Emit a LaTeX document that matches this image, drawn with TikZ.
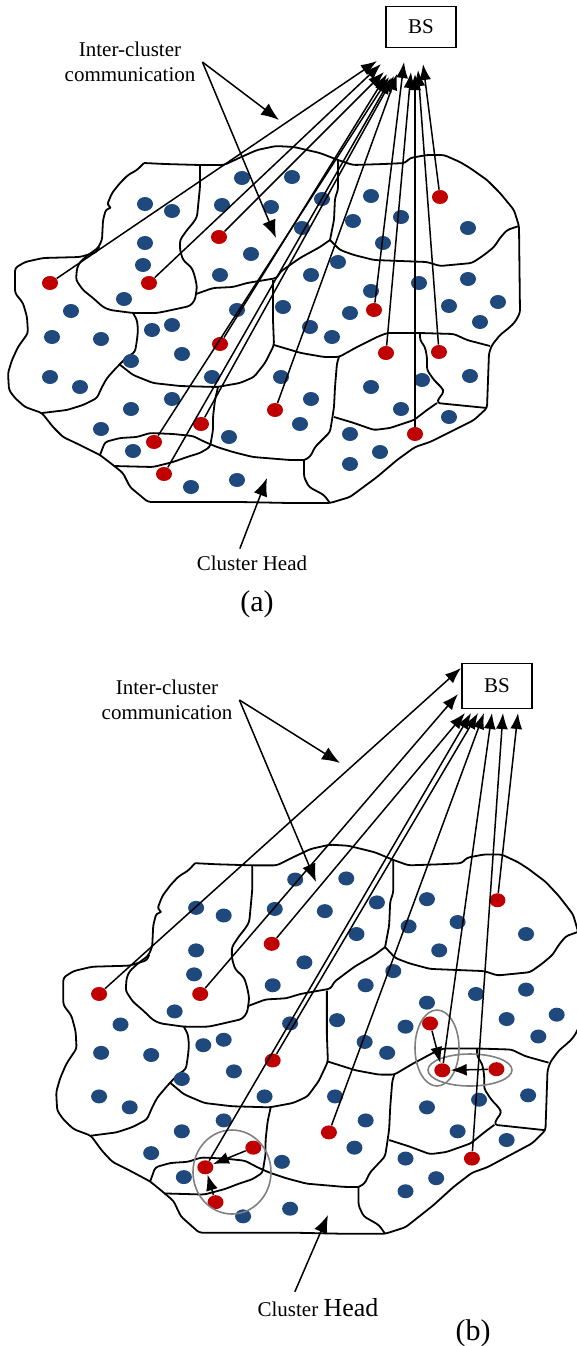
\documentclass[tikz,border=0pt]{standalone}
\usepackage{fontspec}
\setmainfont{Liberation Serif}
\usetikzlibrary{shapes.geometric,arrows.meta,positioning}
\definecolor{chred}{RGB}{192,0,0}
\definecolor{mblue}{RGB}{31,73,125}
\tikzset{
  cborder/.style={line width=0.9pt, line join=round, rounded corners=1.5pt},
  mnode/.style={ellipse, fill=mblue, minimum width=8pt, minimum height=7pt, inner sep=0pt},
  chnode/.style={ellipse, fill=chred, minimum width=8pt, minimum height=7pt, inner sep=0pt},
  uplink/.style={-{Latex[length=8pt,width=6pt]}, line width=0.75pt},
  callout/.style={-{Latex[length=9pt,width=7pt]}, line width=0.75pt},
  bsbox/.style={draw, line width=0.8pt, minimum width=35pt, minimum height=20.5pt},
  grp/.style={draw=gray, line width=0.8pt}
}
% the field of clusters, drawn in the coordinates of panel (a)
\newcommand{\clusterfield}[1]{%
  \draw[cborder] (144,163) -- (165,164) -- (200,165) -- (224,165) -- (239,158) -- (257,150) -- (276,146) -- (294,147) -- (320,153) -- (338,160) -- (353,165) -- (384,164) -- (405,163) -- (410,158) -- (427,155) -- (444,155) -- (460,162) -- (470,168) -- (487,180) -- (500,193) -- (514,210) -- (519,226)
    -- (520,313) -- (515,322) -- (510,327) -- (500,335) -- (492,345) -- (489,353) -- (487,408)
    -- (474,420) -- (454,430) -- (430,442) -- (415,447) -- (397,460) -- (377,477) -- (350,497) -- (330,503)
    -- (290,503) -- (240,502) -- (148,502) -- (130,487) -- (123,473) -- (113,465) -- (100,455) -- (80,445) -- (63,437) -- (53,427) -- (42,413) -- (25,407) -- (15,398) -- (9,390) -- (8,373) -- (12,360) -- (18,347) -- (28,333) -- (27,317) -- (23,303) -- (15,293) -- (15,268)
    -- (25,262) -- (43,258) -- (80,257) -- (97,252) -- (99,247);
  \draw[cborder] (144,163) -- (137,170) -- (128,175) -- (120,183) -- (112,193) -- (107,205) -- (112,208) -- (106,209) -- (103,220) -- (102,240) -- (98,248) -- (88,255) -- (80,262) -- (77,268) -- (76,280) -- (83,290) -- (93,298) -- (103,307) -- (110,310) -- (133,313) -- (157,313) -- (167,311) -- (190,306) -- (195,300) -- (197,287) -- (195,277) -- (192,268) -- (183,260) -- (180,250) -- (180,240) -- (187,230) -- (193,223) -- (197,217) -- (198,207) -- (200,187) -- (200,165);
  \draw[cborder] (133,313) -- (137,320) -- (138,330) -- (137,340) -- (135,352) -- (127,357) -- (117,367) -- (107,378) -- (102,387) -- (97,398) -- (83,405) -- (67,410) -- (42,413);
  \draw[cborder] (196,294) -- (213,288) -- (233,287) -- (247,283) -- (277,278) -- (280,272) -- (290,265) -- (300,258) -- (309,253) -- (320,247) -- (330,240);
  \draw[cborder] (338,160) -- (338,190) -- (335,198) -- (334,220) -- (330,240);
  \draw[cborder] (273,280) -- (273,320) -- (274,345) -- (265,363) -- (254,377) -- (240,383) -- (217,387) -- (180,386) -- (153,383) -- (133,375) -- (119,364);
  \draw[cborder] (218,387) -- (215,400) -- (213,417) -- (213,430) -- (210,447) -- (200,453) -- (187,457) -- (173,462) -- (153,467) -- (114,466);
  \draw[cborder] (100,455) -- (105,442) -- (120,438) -- (137,437) -- (150,433) -- (173,434) -- (193,436) -- (205,442) -- (217,447) -- (233,452) -- (253,457) -- (290,460) -- (304,460);
  \draw[cborder] (304,460) -- (304,477) -- (309,487) -- (324,495) -- (330,503);
  \draw[cborder] (304,460) -- (310,457) -- (315,447) -- (320,442) -- (330,432) -- (332,420) -- (334,407) -- (335,387) -- (337,363) -- (339,357);
  \draw[cborder] (274,345) -- (301,353) -- (324,357) -- (339,357) -- (357,347) -- (377,337) -- (387,333) -- (420,333) -- (454,334) -- (467,340) -- (490,346);
  \draw[cborder] (330,240) -- (340,250) -- (354,255) -- (374,260) -- (427,262) -- (440,266) -- (472,263) -- (484,255) -- (494,247) -- (500,238) -- (507,230) -- (519,226);
  \draw[cborder] (420,333) -- (420,340) -- (425,347) -- (427,357) -- (427,370) -- (434,380) -- (442,388) -- (444,392) -- (439,398) -- (437,403) -- (487,408);
  \draw[cborder] (334,417) -- (354,423) -- (374,430) -- (390,428) -- (414,420) -- (427,410) -- (437,403);
  % member nodes
  \foreach \x/\y [count=\k] in {242/178, 292/177, 145/204, 172/211, 222/205, 271/207, 322/199, 371/196, 302/228, 353/221, 401/217, 468/228, 145/243, 251/254, 383/243, 143/265, 220/275, 311/275, 338/262, 371/291, 419/283, 468/279, 124/299, 71/311, 101/339, 52/337, 237/310, 283/307, 152/330, 172/325, 182/354, 131/361, 350/313, 310/327, 332/337, 449/306, 498/302, 480/322, 50/377, 80/387, 212/377, 281/377, 371/387, 422/380, 470/376, 172/399, 131/409, 101/429, 311/399, 300/424, 401/409, 449/417, 229/437, 133/451, 350/434, 380/452, 350/464, 191/487, 237/480}
    \node[mnode] (m#1\k) at (\x,\y) {};
  % cluster heads
  \foreach \x/\y [count=\k] in {50/283, 149/283, 219/237, 220/344, 154/442, 164/474, 201/424, 275/410, 374/310, 386/353, 415/434, 439/352, 440/197}
    \node[chnode] (h#1\k) at (\x,\y) {};
}

\begin{document}
\begin{tikzpicture}[x=0.5pt, y=-0.5pt, font=\fontsize{10.5}{12.5}\selectfont]
\useasboundingbox (0,0) rectangle (577,1346);

% (a) direct links to the base station
\clusterfield{a}
\node[bsbox] (bsa) at (421,27) {BS};
\foreach \i/\tx/\ty in {1/377/61, 2/381/64, 3/384/72, 4/387/74, 5/389/77, 6/391/78, 7/394/76, 8/397/74, 9/404/62, 10/411/72, 11/415/74, 12/418/70, 13/423/64} {
  \coordinate (ta\i) at (\tx,\ty);
  \draw[uplink] (ha\i) -- (ta\i);
}
\node[align=center] (ica) at (130,62) {Inter-cluster\\communication};
\coordinate (ica1) at (279,120);
\coordinate (ica2) at (276,238);
\draw[callout] (ica.east) -- (ica1);
\draw[callout] (ica.east) -- (ica2);
\node (cha) at (252,563) {Cluster Head};
\coordinate (cha1) at (267,478);
\draw[callout] (cha.130) -- (cha1);
\node (capa) at (257,604) {\fontsize{15}{18}\selectfont (a)};

% (b) multi-hop between cluster heads
\begin{scope}[shift={(48,685.5)}, xscale=1.0215, yscale=1.09]
  \clusterfield{b}
\end{scope}
\draw[grp] (232,1172) ellipse [x radius=19.5pt, y radius=21pt];
\draw[grp] (437,1048) ellipse [x radius=11pt, y radius=19pt];
\draw[grp] (470,1070) ellipse [x radius=21pt, y radius=8pt];
\node[bsbox, minimum height=22.5pt] (bsb) at (497,686) {BS};
\foreach \i/\tx/\ty in {1/461/668, 2/458/694, 3/465/713, 4/478/713, 5/471/713, 8/484/713, 10/492/713, 11/503/713, 13/518/713} {
  \coordinate (tb\i) at (\tx,\ty);
  \draw[uplink] (hb\i) -- (tb\i);
}
\draw[uplink] (hb7) -- (hb5);
\draw[uplink] (hb6) -- (hb5);
\draw[uplink] (hb9) -- (hb10);
\draw[uplink] (hb12) -- (hb10);
\node[align=center] (icb) at (167,700) {Inter-cluster\\communication};
\coordinate (icb1) at (340,763);
\coordinate (icb2) at (316,882);
\draw[callout] (icb.east) -- (icb1);
\draw[callout] (icb.east) -- (icb2);
\node (chb) at (318,1308) {Cluster {\fontsize{13}{15}\selectfont Head}};
\coordinate (chb1) at (328,1215);
\draw[callout] (chb.145) -- (chb1);
\node (capb) at (473,1333) {\fontsize{15}{18}\selectfont (b)};
\end{tikzpicture}
\end{document}
